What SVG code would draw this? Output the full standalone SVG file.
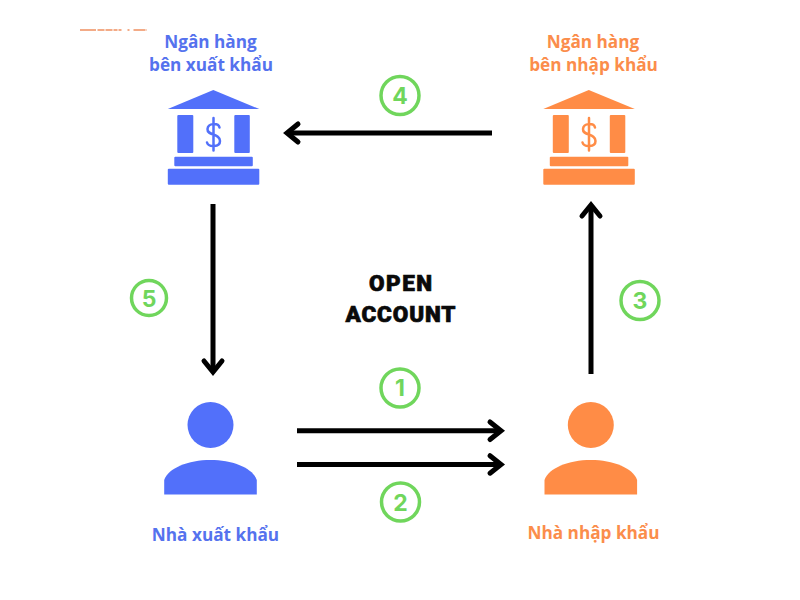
<svg xmlns="http://www.w3.org/2000/svg" width="800" height="600" viewBox="0 0 800 600">
<style>
text{font-family:"Open Sans","Noto Sans",sans-serif;font-weight:700;font-size:17.2px;text-anchor:middle}
.blue{fill:#5572ee}.orange{fill:#fb8d4b}
.bi{fill:#5270fa}.oi{fill:#ff8c46}
.line{fill:none;stroke:#000;stroke-width:5}
.head{fill:none;stroke:#000;stroke-width:5;stroke-linecap:round;stroke-linejoin:miter}
.ring{fill:none;stroke:#70d65c;stroke-width:3.5}
.num{fill:#70d65c;font-family:Inter,"Noto Sans",sans-serif;font-size:23px;font-weight:700}
.title{fill:#0a0a0a;stroke:#0a0a0a;stroke-width:.7;font-family:Roboto,"Liberation Sans",sans-serif;font-weight:900;font-size:22.500px}
.dollar{fill:none;stroke-width:2.500;stroke-linecap:round}
</style>
<defs>
<g id="bank">
<path d="M45.500 0L91.500 19H0Z" stroke-linejoin="round"/>
<rect x="9.500" y="25" width="16" height="38" rx="1"/>
<rect x="66.500" y="25" width="15.500" height="38" rx="1"/>
<rect x="6.500" y="66.700" width="78.500" height="9.500" rx="1"/>
<rect x="0" y="78.700" width="91.500" height="16" rx="1"/>
</g>
<g id="person">
<circle cx="46.300" cy="-35" r="23"/>
<path d="M0 34.500V20C4 8 24 0 46.300 0S88.600 8 92.600 20V34.500Z"/>
</g>
</defs>
<rect width="800" height="600" fill="#fff"/>
<path d="M80 30H147" stroke="#f09060" stroke-width="1.400" stroke-dasharray="16 1.500 7 1 7 1 4 1 3 6 2 4 12 1 9" fill="none"/>
<g id="connectors">
<path class="line" d="M492 133H288"/><path class="head" d="M298 124L287 133L298 142"/>
<path class="line" d="M213 204V371"/><path class="head" d="M204 361L213 372L222 361"/>
<path class="line" d="M591 374V207"/><path class="head" d="M582 216L591 205L600 216"/>
<path class="line" d="M297 430.700H500"/><path class="head" d="M490 422L501 430.700L490 439.500"/>
<path class="line" d="M297 464.500H500"/><path class="head" d="M490 455.700L501 464.500L490 473.200"/>
</g>
<g id="bank-exporter">
<use href="#bank" x="167.800" y="90" class="bi"/>
<path class="dollar" stroke="#5270fa" d="M219.500 127.500C218.500 123 208 122.500 207.500 129C207 136 220 133 220 141C220 147.500 208.500 147.500 207 142.500M213.500 118V150.500"/>
<text class="blue" x="210.500" y="48">Ngân hàng</text>
<text class="blue" x="211" y="70.500">bên xuất khẩu</text>
</g>
<g id="bank-importer">
<use href="#bank" x="543.300" y="90" class="oi"/>
<path class="dollar" stroke="#ff8c46" d="M595 127.500C594 123 583.500 122.500 583 129C582.500 136 595.500 133 595.500 141C595.500 147.500 584 147.500 582.500 142.500M589 118V150.500"/>
<text class="orange" x="593" y="48">Ngân hàng</text>
<text class="orange" x="593.500" y="70.500">bên nhập khẩu</text>
</g>
<g id="exporter">
<use href="#person" x="164.200" y="460" class="bi"/>
<text class="blue" x="215.500" y="540.500">Nhà xuất khẩu</text>
</g>
<g id="importer">
<use href="#person" x="544.500" y="460" class="oi"/>
<text class="orange" x="593.500" y="539">Nhà nhập khẩu</text>
</g>
<g id="title">
<text class="title" x="400.500" y="290.500" textLength="63" lengthAdjust="spacing">OPEN</text>
<text class="title" x="400.500" y="321.500" textLength="110" lengthAdjust="spacing">ACCOUNT</text>
</g>
<g id="step-1"><circle class="ring" cx="400" cy="388" r="19"/><text class="num" x="400" y="396">1</text></g>
<g id="step-2"><circle class="ring" cx="400.500" cy="502" r="19"/><text class="num" x="400.500" y="510.500">2</text></g>
<g id="step-3"><circle class="ring" cx="640" cy="300.500" r="19"/><text class="num" x="640" y="309">3</text></g>
<g id="step-4"><circle class="ring" cx="400" cy="95.500" r="19"/><text class="num" x="400" y="104">4</text></g>
<g id="step-5"><circle class="ring" cx="149" cy="298" r="17.500"/><text class="num" x="149" y="306.500">5</text></g>
</svg>
